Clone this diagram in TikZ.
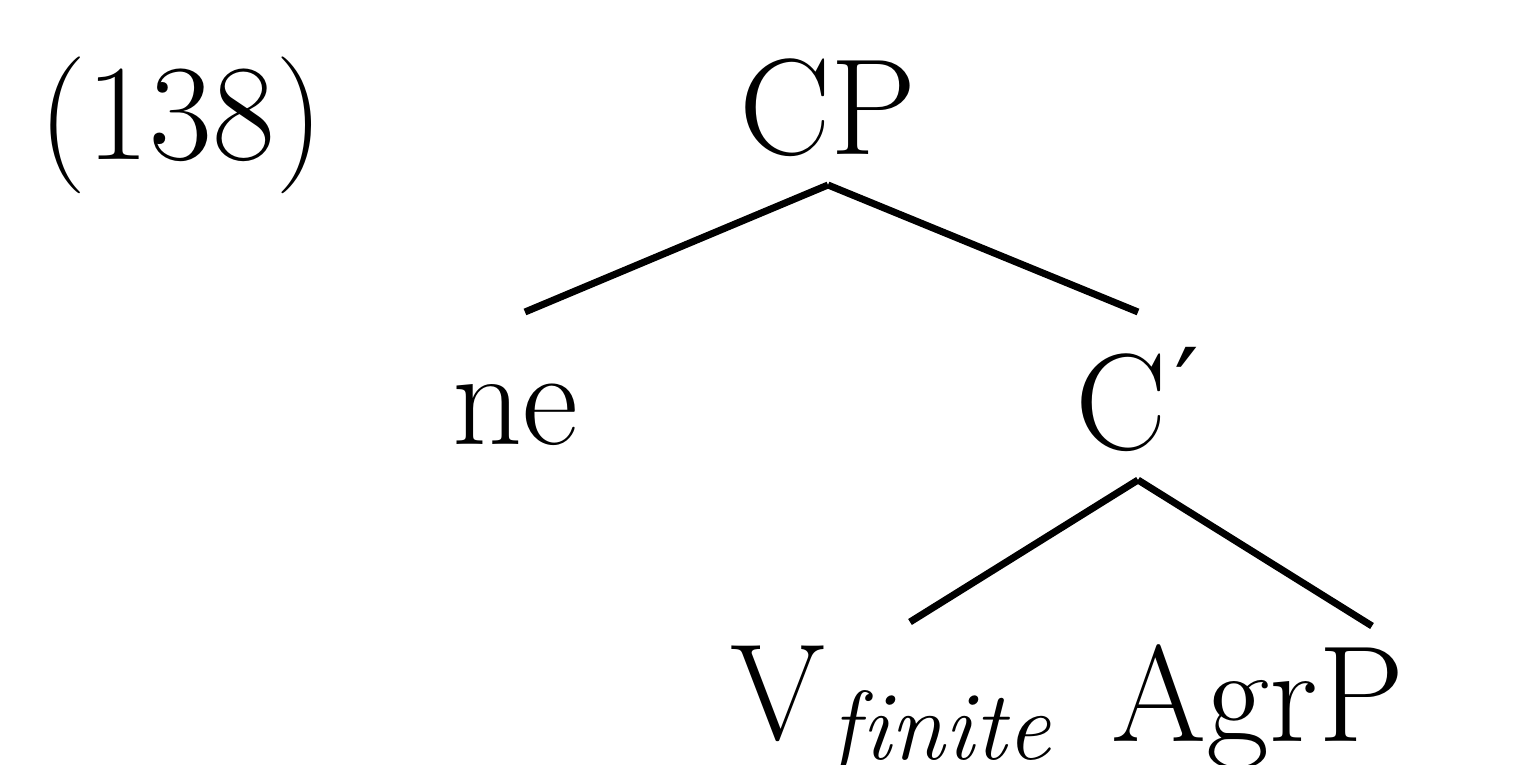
\documentclass[tikz,border=0pt]{standalone}
\usepackage{fontspec}
\newfontfamily\primefont{DejaVu Sans}
\begin{document}
\begin{tikzpicture}[x=1pt,y=1pt,
  lab/.style={inner sep=0pt, font=\fontsize{137}{150}\selectfont},
  branch/.style={line width=7pt}]
\useasboundingbox (0,0) rectangle (1540,764);
\node[lab, anchor=base west] (num) at (38,604) {(138)};
\node[lab, anchor=base] (cp) at (828,609) {CP};
\node[lab, anchor=base] (ne) at (515,319) {ne};
\node[lab, anchor=base west] (cbar) at (1075,314) {C\kern8pt\raisebox{22pt}{\primefont\fontsize{110}{120}\selectfont ′}};
\node[lab, anchor=base west] (v) at (730,25) {V\kern4pt\raisebox{-20pt}{\fontsize{98}{100}\selectfont\itshape f\kern3pt inite}};
\node[lab, anchor=base] (agrp) at (1258,23) {AgrP};
\coordinate (cptop) at (828,579);
\coordinate (cbartop) at (1138,284);
\draw[branch] (cptop) -- ([xshift=10pt,yshift=133pt]ne.base);
\draw[branch] (cptop) -- ([xshift=63pt,yshift=138pt]cbar.base west);
\draw[branch] (cbartop) -- ([xshift=180pt,yshift=117pt]v.base west);
\draw[branch] (cbartop) -- ([xshift=114pt,yshift=115pt]agrp.base);
\end{tikzpicture}
\end{document}
